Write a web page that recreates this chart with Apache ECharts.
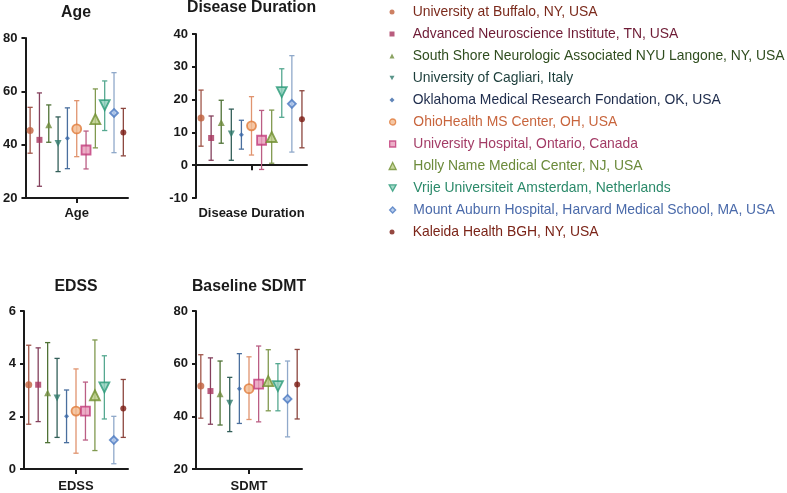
<!DOCTYPE html>
<html><head><meta charset="utf-8">
<script src="https://cdn.jsdelivr.net/npm/echarts@6/dist/echarts.min.js"></script>
<style>html,body{margin:0;padding:0;background:#fff}#c{width:787px;height:493px}</style>
</head><body><div id="c"></div>
<script>
const sites = [
  "University at Buffalo, NY, USA",
  "Advanced Neuroscience Institute, TN, USA",
  "South Shore Neurologic Associated NYU Langone, NY, USA",
  "University of Cagliari, Italy",
  "Oklahoma Medical Research Fondation, OK, USA",
  "OhioHealth MS Center, OH, USA",
  "University Hospital, Ontario, Canada",
  "Holly Name Medical Center, NJ, USA",
  "Vrije Universiteit Amsterdam, Netherlands",
  "Mount Auburn Hospital, Harvard Medical School, MA, USA",
  "Kaleida Health BGH, NY, USA"
];
const ageMean = [45.3, 41.8, 47.5, 40.4, 42.4, 45.9, 38.0, 49.6, 54.8, 51.9, 44.6];
const ageLow  = [36.8, 24.4, 40.9, 29.9, 31.0, 35.5, 30.9, 38.8, 45.3, 37.0, 35.8];
const ageHigh = [54.0, 59.4, 54.9, 50.4, 53.8, 56.5, 45.1, 60.9, 63.9, 67.0, 53.6];

const durMean = [14.4, 8.3, 13.0, 9.5, 9.3, 12.0, 7.6, 8.6, 22.3, 18.7, 14.0];
const durLow  = [5.8, 1.5, 6.7, 1.5, 4.9, 3.1, -1.3, 0.6, 14.6, 4.0, 5.3];
const durHigh = [22.9, 15.0, 19.8, 17.1, 13.7, 20.9, 16.7, 16.8, 29.4, 33.4, 22.7];

const edssMean = [3.2, 3.2, 2.9, 2.7, 2.0, 2.2, 2.2, 2.8, 3.1, 1.1, 2.3];
const edssLow  = [1.7, 1.8, 1.0, 1.2, 1.0, 0.6, 1.1, 0.7, 1.9, 0.2, 1.2];
const edssHigh = [4.7, 4.6, 4.8, 4.2, 3.0, 3.8, 3.3, 4.9, 4.3, 2.0, 3.4];

const sdmtMean = [51.5, 49.6, 48.6, 45.0, 50.5, 50.5, 52.2, 53.4, 51.5, 46.6, 52.1];
const sdmtLow  = [39.3, 37.0, 36.7, 34.2, 37.3, 38.8, 37.9, 42.1, 42.1, 32.2, 39.0];
const sdmtHigh = [63.4, 62.2, 61.0, 54.8, 63.8, 62.6, 66.7, 65.3, 60.0, 61.0, 65.4];

const panelTitles = ["Age", "Disease Duration", "EDSS", "Baseline SDMT"];
const panelXLabels = ["Age", "Disease Duration", "EDSS", "SDMT"];
const yMins = [20, -10, 0, 20];
const yMaxs = [80, 40, 6, 80];
const yIntervals = [20, 10, 2, 20];

const markerColors = ['#c0603c','#a8345e','#6f8c3c','#2f7a6c','#3a68a8','#e07a3a','#c23b7a','#6f8f2f','#2a9a78','#4a78c0','#7a1a12'];
const fillColors   = ['#c0603c','#a8345e','#6f8c3c','#2f7a6c','#3a68a8','#f3b98e','#e79ab9','#b9cc86','#8fd0bb','#a9c2e8','#7a1a12'];
const barColors    = ['#a0564a','#84405c','#4f7236','#335f59','#4a6f9e','#e0946f','#bb5e84','#80994f','#55a890','#90a9ca','#8c463e'];
const textColors   = ['#7b2a1c','#6e1b35','#2f4d1f','#1b3d3a','#1e2c4c','#c8653d','#a33c66','#6b8a3a','#2b8a6a','#4a6aaa','#7b2418'];
const symbols      = ['circle','rect','triangle','triangle','diamond','circle','rect','triangle','triangle','diamond','circle'];
const rotations    = [0,0,0,180,0,0,0,0,180,0,0];
const sizes        = [7,6,7,7,5,9,9,10,10,8,6];
const legendSizes  = [5,5,5,5,5,6,6,7,7,6,5];
const hollow       = [false,false,false,false,false,true,true,true,true,true,false];
const DOWN_TRI = 'path://M0,0L10,0L5,9Z';

const means = [ageMean, durMean, edssMean, sdmtMean];
const lows = [ageLow, durLow, edssLow, sdmtLow];
const highs = [ageHigh, durHigh, edssHigh, sdmtHigh];

const FONT = "'Liberation Sans', Arial, sans-serif";
const grids = [
  {left: 24, top: 38, width: 104, height: 160},
  {left: 196, top: 34, width: 111, height: 164},
  {left: 24, top: 311, width: 104, height: 161},
  {left: 196, top: 311, width: 106, height: 161}
];
const titleY = [5, 0, 279, 279];

const chart = echarts.init(document.getElementById('c'), null, {renderer: 'canvas'});

const xAxes = [], yAxes = [], series = [], titles = [];
for (let g = 0; g < 4; g++) {
  titles.push({
    text: panelTitles[g], left: grids[g].left + grids[g].width / 2, top: titleY[g], textAlign: 'center', padding: 0,
    textStyle: {fontFamily: FONT, fontWeight: 'bold', fontSize: 15.8, color: '#1a1a1a'}
  });
  xAxes.push({
    type: 'category', gridIndex: g, data: sites, boundaryGap: true,
    axisLine: {lineStyle: {color: '#1a1a1a', width: 2}},
    axisTick: {show: true, alignWithLabel: true, length: 5, lineStyle: {width: 2, color: '#1a1a1a'}, interval: (i) => i === 5},
    axisLabel: {interval: (i) => i === 5, formatter: () => panelXLabels[g], margin: g >= 2 ? 11 : 9,
      fontFamily: FONT, fontWeight: 'bold', fontSize: 13, color: '#1a1a1a'},
    splitLine: {show: false}
  });
  yAxes.push({
    type: 'value', gridIndex: g, min: yMins[g], max: yMaxs[g], interval: yIntervals[g],
    axisLine: {show: true, lineStyle: {color: '#1a1a1a', width: 2}},
    axisTick: {show: true, length: 4, lineStyle: {width: 2, color: '#1a1a1a'}},
    axisLabel: {margin: 8, fontFamily: FONT, fontWeight: 'bold', fontSize: 13, color: '#1a1a1a'},
    splitLine: {show: false}
  });
  const ebData = sites.map((s, i) => [i, lows[g][i], highs[g][i]]);
  series.push({
    type: 'custom', name: 'err' + g, xAxisIndex: g, yAxisIndex: g, z: 1,
    data: ebData, encode: {x: 0, y: [1, 2]},
    renderItem: function (params, api) {
      const x = api.value(0);
      const lo = api.coord([x, api.value(1)]);
      const hi = api.coord([x, api.value(2)]);
      const cap = 2.6;
      const style = {stroke: barColors[params.dataIndex], lineWidth: 1.3};
      return {
        type: 'group', children: [
          {type: 'line', shape: {x1: lo[0], y1: lo[1], x2: hi[0], y2: hi[1]}, style: style},
          {type: 'line', shape: {x1: lo[0] - cap, y1: lo[1], x2: lo[0] + cap, y2: lo[1]}, style: style},
          {type: 'line', shape: {x1: hi[0] - cap, y1: hi[1], x2: hi[0] + cap, y2: hi[1]}, style: style}
        ]
      };
    }
  });
  for (let i = 0; i < sites.length; i++) {
    const s = {
      type: 'scatter', name: sites[i], xAxisIndex: g, yAxisIndex: g, z: 3,
      data: [[sites[i], means[g][i]]],
      symbol: symbols[i], symbolRotate: rotations[i], symbolSize: sizes[i],
      itemStyle: hollow[i]
        ? {color: fillColors[i], borderColor: markerColors[i], borderWidth: 1.8}
        : {color: markerColors[i]},
      emphasis: {disabled: true}
    };
    if (g === 1 && i === 0) {
      s.markLine = {
        silent: true, symbol: ['none', 'none'], label: {show: false},
        lineStyle: {type: [2, 4], color: '#1a1a1a', width: 1.6},
        data: [{yAxis: 0}]
      };
    }
    series.push(s);
  }
}

const legends = sites.map((s, i) => {
  const h = legendSizes[i];
  const item = {name: s, textStyle: {color: textColors[i], padding: [0, 0, 0, 412.7 - (392 + h / 2) - 5]}};
  if (rotations[i] === 180) item.icon = DOWN_TRI;
  return {
    orient: 'vertical', left: 392 - h / 2, top: 12 + 22 * i - 7,
    itemWidth: h, itemHeight: h, itemGap: 0,
    data: [item],
    textStyle: {fontFamily: FONT, fontSize: 13.9, lineHeight: 14},
    itemStyle: hollow[i] ? {borderWidth: 1.3} : {},
    selectedMode: false, padding: 0
  };
});

chart.setOption({
  animation: false,
  backgroundColor: '#ffffff',
  title: titles,
  grid: grids,
  xAxis: xAxes,
  yAxis: yAxes,
  legend: legends,
  series: series
});
</script>
</body></html>
